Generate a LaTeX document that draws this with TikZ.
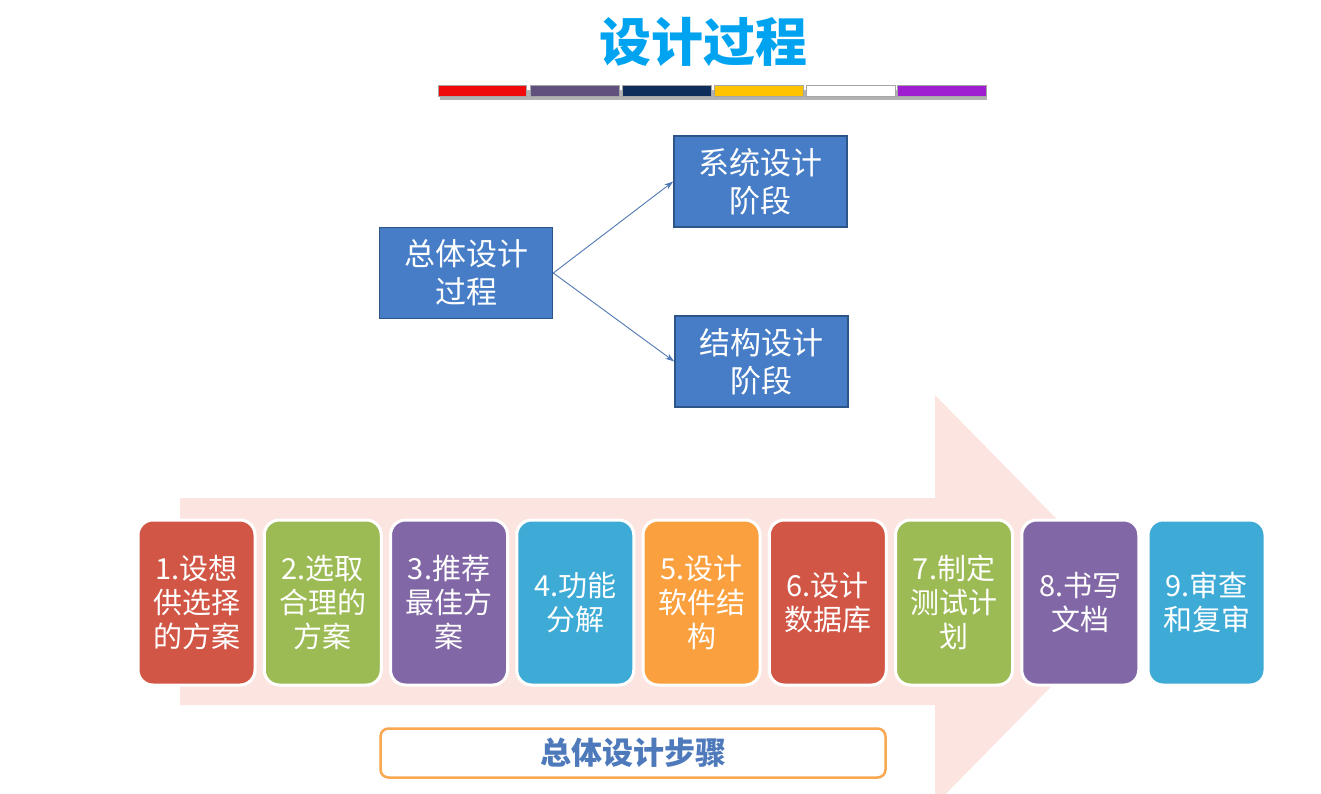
\documentclass[tikz,border=0pt]{standalone}
\usepackage{fontspec}
\setmainfont{Noto Sans CJK SC}
\usetikzlibrary{arrows.meta}

\definecolor{titleblue}{RGB}{0,163,240}
\definecolor{boxblue}{RGB}{70,125,198}
\definecolor{boxedge}{RGB}{45,85,135}
\definecolor{linkblue}{RGB}{80,120,180}
\definecolor{arrowpink}{RGB}{252,229,225}
\definecolor{stepred}{RGB}{210,86,70}
\definecolor{stepgreen}{RGB}{157,187,85}
\definecolor{steppurple}{RGB}{130,103,166}
\definecolor{stepcyan}{RGB}{62,170,214}
\definecolor{steporange}{RGB}{250,160,62}
\definecolor{labelorange}{RGB}{249,167,80}
\definecolor{labeltext}{RGB}{78,122,188}
\definecolor{barred}{RGB}{240,10,10}
\definecolor{bargrey}{RGB}{95,80,125}
\definecolor{barnavy}{RGB}{15,45,90}
\definecolor{baryellow}{RGB}{255,195,0}
\definecolor{barviolet}{RGB}{160,30,210}

\tikzset{
  phasebox/.style={draw=boxedge, line width=1.6pt, fill=boxblue, text=white,
    minimum width=173pt, minimum height=91pt, inner sep=0pt, align=center,
    font=\fontsize{31}{38}\selectfont},
  stepbox/.style={draw=white, line width=3pt, rounded corners=15pt, text=white,
    minimum width=117pt, minimum height=165pt, inner sep=0pt, align=center,
    font=\fontsize{29}{34}\selectfont},
  link/.style={draw=linkblue, line width=0.9pt, -{Stealth[length=9pt,width=6pt]}},
  colorbar/.style={draw=black!35, line width=0.5pt},
}

\begin{document}
\begin{tikzpicture}[x=1pt,y=-1pt]
\useasboundingbox (0,0) rectangle (1321,794);
\fill[white] (0,0) rectangle (1321,794);

% heading and coloured strip
\node[text=titleblue, font=\bfseries\fontsize{52}{54}\selectfont] (title) at (703,42) {设计过程};
\fill[black!30] (440,90) rectangle (987,100);
\foreach \c/\xa/\xb in {barred/438/526, bargrey/530/619, barnavy/622/711, baryellow/714/803, white/806/895, barviolet/897/986}
  \draw[colorbar, fill=\c] (\xa,85) rectangle (\xb,96);

% phases of the overall design
\node[phasebox] (whole) at (466,273) {总体设计\\过程};
\node[phasebox] (sys) at (760.5,181.5) {系统设计\\阶段};
\node[phasebox] (struct) at (761.5,361.5) {结构设计\\阶段};
\draw[link] (whole.east) -- (sys.west);
\draw[link] (whole.east) -- (struct.west);

% large background arrow
\fill[arrowpink] (180,498) -- (935,498) -- (935,395) -- (1136,600) -- (935,805)
  -- (935,705) -- (180,705) -- cycle;

% the nine steps
\foreach \i/\col/\txt in {
  1/stepred/{1.设想\\供选择\\的方案},
  2/stepgreen/{2.选取\\合理的\\方案},
  3/steppurple/{3.推荐\\最佳方\\案},
  4/stepcyan/{4.功能\\分解},
  5/steporange/{5.设计\\软件结\\构},
  6/stepred/{6.设计\\数据库},
  7/stepgreen/{7.制定\\测试计\\划},
  8/steppurple/{8.书写\\文档},
  9/stepcyan/{9.审查\\和复审}}
  \node[stepbox, fill=\col] (s\i) at ({196.5+(\i-1)*126.25},602.5) {\txt};

% caption box
\node[draw=labelorange, line width=2.5pt, fill=white, rounded corners=8pt,
  minimum width=505pt, minimum height=49pt, text=labeltext,
  font=\bfseries\fontsize{31}{33}\selectfont] (steps) at (633,753) {总体设计步骤};
\end{tikzpicture}
\end{document}
